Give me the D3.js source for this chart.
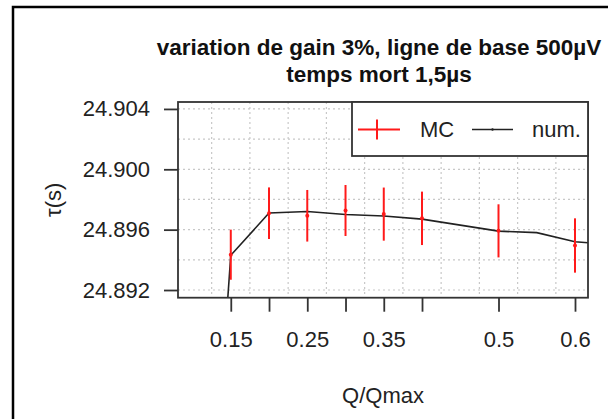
<!DOCTYPE html>
<html><head><meta charset="utf-8">
<script src="https://cdn.jsdelivr.net/npm/d3@7"></script>
<style>
html,body{margin:0;padding:0;background:#fff;}
svg{display:block;font-family:"Liberation Sans",Arial,sans-serif;}
</style></head>
<body><svg id="c" width="608" height="419"></svg>
<script>
// ---- data ----
const titleLines = ["variation de gain 3%, ligne de base 500µV", "temps mort 1,5µs"];
const xLabel = "Q/Qmax";
const yLabel = "τ(s)";
const qMC   = [0.15, 0.2, 0.25, 0.3, 0.35, 0.4, 0.5, 0.6];
const tauMC = [24.89434, 24.89709, 24.89692, 24.89727, 24.89703, 24.89675, 24.89592, 24.89495];
const errMC = [0.00166, 0.00171, 0.00171, 0.00169, 0.00176, 0.00177, 0.00176, 0.00180];
const qNum   = [0.1, 0.15, 0.2, 0.25, 0.3, 0.35, 0.4, 0.45, 0.5, 0.55, 0.6, 0.65];
const tauNum = [24.858, 24.8943, 24.8971, 24.8972, 24.8970, 24.8969, 24.8967, 24.8963, 24.8959, 24.8958, 24.8952, 24.8950];
const xTicks = [0.15, 0.2, 0.25, 0.3, 0.35, 0.4, 0.5, 0.6];
const xTickLabels = ["0.15", "", "0.25", "", "0.35", "", "0.5", "0.6"];
const yTicks = [24.892, 24.896, 24.900, 24.904];
const xGrid = [0.125, 0.175, 0.225, 0.275, 0.325, 0.375, 0.425, 0.475, 0.525, 0.575];
const yGrid = [24.892, 24.894, 24.896, 24.898, 24.900, 24.902, 24.904];
const legendLabels = ["MC", "num."];

// ---- layout ----
const L = 178, R = 588, T = 102, B = 297.7;
const svg = d3.select("#c");
const x = d3.scaleLinear().domain([0.081, 0.617]).range([L, R]);
const y = d3.scaleLinear().domain([24.89149, 24.90446]).range([B, T]);

// outer frame
svg.append("path").attr("d", `M13,419 L13,7 L608,7`).attr("fill","none").attr("stroke","#000").attr("stroke-width",2.5);

// clip
svg.append("clipPath").attr("id","pc").append("rect").attr("x",L).attr("y",T).attr("width",R-L).attr("height",B-T);

// grid
const g = svg.append("g").attr("stroke","#c8c8c8").attr("stroke-width",1.2).attr("stroke-dasharray","2,3");
g.selectAll("line.gx").data(xGrid).join("line").attr("x1",d=>x(d)).attr("x2",d=>x(d)).attr("y1",T).attr("y2",B);
g.selectAll("line.gy").data(yGrid).join("line").attr("y1",d=>y(d)).attr("y2",d=>y(d)).attr("x1",L).attr("x2",R);

// num line
const pts = qNum.map((q,i)=>[q, tauNum[i]]);
svg.append("path").datum(pts).attr("clip-path","url(#pc)")
  .attr("d", d3.line().x(d=>x(d[0])).y(d=>y(d[1])))
  .attr("fill","none").attr("stroke","#222").attr("stroke-width",1.6);

// MC error bars
const mc = qMC.map((q,i)=>({q, v:tauMC[i], e:errMC[i]}));
const eg = svg.append("g");
eg.selectAll("line").data(mc).join("line")
  .attr("x1",d=>x(d.q)).attr("x2",d=>x(d.q)).attr("y1",d=>y(d.v-d.e)).attr("y2",d=>y(d.v+d.e))
  .attr("stroke","#ff1a1a").attr("stroke-width",2);
eg.selectAll("circle").data(mc).join("circle")
  .attr("cx",d=>x(d.q)).attr("cy",d=>y(d.v)).attr("r",2).attr("fill","#ff1a1a");

// axes
const ax = svg.append("g").attr("transform",`translate(0,${B})`)
  .call(d3.axisBottom(x).tickValues(xTicks).tickSize(14).tickPadding(20).tickFormat((d,i)=>xTickLabels[i]));
const ay = svg.append("g").attr("transform",`translate(${L},0)`)
  .call(d3.axisLeft(y).tickValues(yTicks).tickSize(14).tickPadding(14).tickFormat(d3.format(".3f")));
[ax, ay].forEach(a=>{
  a.select(".domain").remove();
  a.selectAll(".tick line").attr("stroke","#333").attr("stroke-width",1.8);
  a.selectAll(".tick text").attr("fill","#222").style("font-size","22px").style("font-family","'Liberation Sans',Arial,sans-serif");
});

// plot box
svg.append("rect").attr("x",L).attr("y",T).attr("width",R-L).attr("height",B-T)
  .attr("fill","none").attr("stroke","#333").attr("stroke-width",1.8);

// legend
const lg = svg.append("g");
lg.append("rect").attr("x",352).attr("y",T).attr("width",R-352).attr("height",54)
  .attr("fill","#fff").attr("stroke","#333").attr("stroke-width",1.8);
const ly = 129.5;
lg.append("line").attr("x1",358).attr("x2",400).attr("y1",ly).attr("y2",ly).attr("stroke","#ff1a1a").attr("stroke-width",2);
lg.append("line").attr("x1",377).attr("x2",377).attr("y1",ly-10).attr("y2",ly+10).attr("stroke","#ff1a1a").attr("stroke-width",2);
lg.append("text").attr("x",420).attr("y",ly).attr("dy","0.35em").text(legendLabels[0])
  .style("font-size","22px").attr("fill","#222");
lg.append("line").attr("x1",472).attr("x2",513).attr("y1",ly).attr("y2",ly).attr("stroke","#222").attr("stroke-width",1.6);
lg.append("circle").attr("cx",492.5).attr("cy",ly).attr("r",1.2).attr("fill","#222");
lg.append("text").attr("x",532).attr("y",ly).attr("dy","0.35em").text(legendLabels[1])
  .style("font-size","22px").attr("fill","#222");

// titles
const tc = (L+R)/2 - 4;
svg.append("text").attr("x",tc).attr("y",47).attr("dy","0.35em").attr("text-anchor","middle")
  .style("font-size","22.5px").style("font-weight","bold").attr("fill","#111").text(titleLines[0]);
svg.append("text").attr("x",tc).attr("y",74).attr("dy","0.35em").attr("text-anchor","middle")
  .style("font-size","22.5px").style("font-weight","bold").attr("fill","#111").text(titleLines[1]);
svg.append("text").attr("x",(L+R)/2).attr("y",395).attr("dy","0.35em").attr("text-anchor","middle")
  .style("font-size","22px").attr("fill","#222").text(xLabel);
svg.append("text").attr("transform",`translate(53,${(T+B)/2}) rotate(-90)`).attr("dy","0.35em").attr("text-anchor","middle")
  .style("font-size","22px").attr("fill","#222").text(yLabel);
</script></body></html>
